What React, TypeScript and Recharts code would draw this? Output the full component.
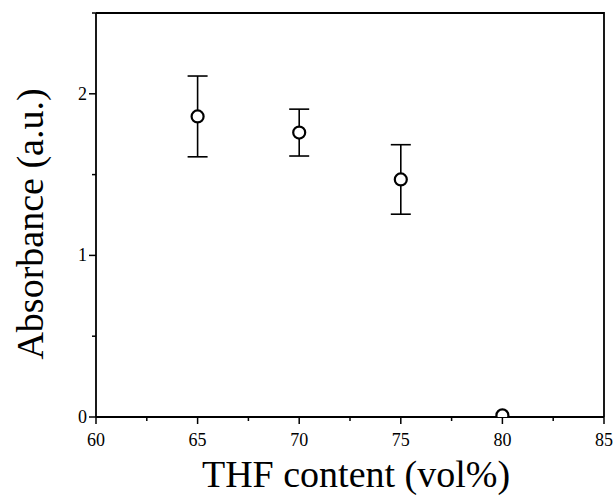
import { ScatterChart, Scatter, XAxis, YAxis, ErrorBar } from 'recharts';

// values
const thfContent = [65, 70, 75, 80];
const absorbance = [1.86, 1.76, 1.47, 0.01];
const absError = [0.25, 0.145, 0.215, null];

const xTicks = [60, 62.5, 65, 67.5, 70, 72.5, 75, 77.5, 80, 82.5, 85];
const xMajor = [60, 65, 70, 75, 80, 85];
const yTicks = [0, 0.5, 1, 1.5, 2, 2.5];
const yMajor = [0, 1, 2];
const xDomain = [60, 85];
const yDomain = [0, 2.5];

const data = thfContent.map((x, i) => ({ x, y: absorbance[i], err: absError[i] }));

const FONT = '"Liberation Serif", "Times New Roman", serif';
const W = 616;
const H = 499;
const MARGIN = { top: 13, right: 12, bottom: 0, left: 0 };
const Y_AXIS_W = 96;
const X_AXIS_H = 82;
const PLOT = {
  left: MARGIN.left + Y_AXIS_W,
  right: W - MARGIN.right,
  top: MARGIN.top,
  bottom: H - MARGIN.bottom - X_AXIS_H,
};

const BottomTick = (props: any) => {
  const { x, y, payload } = props;
  const major = xMajor.includes(payload.value);
  return (
    <g>
      <line x1={x} x2={x} y1={y} y2={y + (major ? 7 : 4)} stroke="#000" strokeWidth={1.5} />
      {major && (
        <text x={x} y={y + 29} textAnchor="middle" fontFamily={FONT} fontSize={18} fill="#000">
          {payload.value}
        </text>
      )}
    </g>
  );
};

const LeftTick = (props: any) => {
  const { x, y, payload } = props;
  const major = yMajor.includes(payload.value);
  return (
    <g>
      <line x1={x - (major ? 7 : 4)} x2={x} y1={y} y2={y} stroke="#000" strokeWidth={1.5} />
      {major && (
        <text x={x - 9} y={y + 6} textAnchor="end" fontFamily={FONT} fontSize={18} fill="#000">
          {payload.value}
        </text>
      )}
    </g>
  );
};

const OpenCircle = (props: any) => (
  <circle cx={props.cx} cy={props.cy} r={6} fill="#fff" stroke="#000" strokeWidth={2.2} />
);

// y title, plus the top and right edges of the frame drawn in the chart's own svg
const YTitle = () => (
  <g>
    <polyline
      points={`${PLOT.left},${PLOT.top} ${PLOT.right},${PLOT.top} ${PLOT.right},${PLOT.bottom}`}
      fill="none"
      stroke="#000"
      strokeWidth={1.8}
    />
    <text x={43} y={224} transform="rotate(-90 43 224)" textAnchor="middle" fontFamily={FONT} fontSize={38} fill="#000">
      Absorbance (a.u.)
    </text>
  </g>
);

const XTitle = () => (
  <text x={356} y={487} textAnchor="middle" fontFamily={FONT} fontSize={38} fill="#000">
    THF content (vol%)
  </text>
);

export default function App() {
  return (
    <div style={{ width: W, height: H, background: '#fff' }}>
      <style>{`body{margin:0}`}</style>
      <ScatterChart width={W} height={H} margin={MARGIN}>
        <XAxis
          type="number"
          dataKey="x"
          domain={xDomain}
          ticks={xTicks}
          interval={0}
          height={X_AXIS_H}
          tickSize={0}
          tickMargin={0}
          tickLine={false}
          tick={<BottomTick />}
          axisLine={{ stroke: '#000', strokeWidth: 1.8 }}
          allowDataOverflow
          label={<XTitle />}
        />
        <YAxis
          type="number"
          dataKey="y"
          domain={yDomain}
          ticks={yTicks}
          interval={0}
          width={Y_AXIS_W}
          tickSize={0}
          tickMargin={0}
          tickLine={false}
          tick={<LeftTick />}
          axisLine={{ stroke: '#000', strokeWidth: 1.8 }}
          allowDataOverflow
          label={<YTitle />}
        />
        <Scatter data={data} shape={<OpenCircle />} isAnimationActive={false}>
          <ErrorBar dataKey="err" direction="y" width={10} stroke="#000" strokeWidth={1.6} isAnimationActive={false} />
        </Scatter>
      </ScatterChart>
    </div>
  );
}
